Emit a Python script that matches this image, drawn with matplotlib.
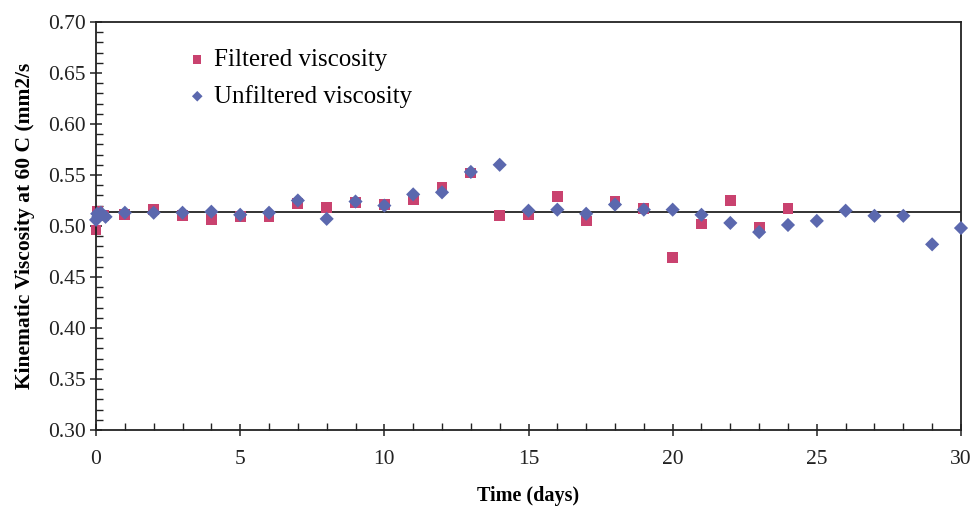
import matplotlib
matplotlib.use("Agg")
import matplotlib.pyplot as plt
from matplotlib.ticker import MultipleLocator

plt.rcParams['font.family'] = ['Liberation Serif', 'DejaVu Serif']

# Filtered viscosity (red squares)
filt_days = [0, 0.04, 0.25, 1, 2, 3, 4, 5, 6, 7, 8, 9, 10, 11, 12, 13, 14,
             15, 16, 17, 18, 19, 20, 21, 22, 23, 24]
filt_visc = [0.496, 0.514, 0.510, 0.511, 0.516, 0.510, 0.506, 0.509, 0.509,
             0.522, 0.518, 0.523, 0.521, 0.526, 0.538, 0.552, 0.510,
             0.511, 0.529, 0.505, 0.524, 0.517, 0.469, 0.502, 0.525, 0.499, 0.517]

# Unfiltered viscosity (blue diamonds)
unf_days = [0, 0.04, 0.08, 0.17, 0.33, 1, 2, 3, 4, 5, 6, 7, 8, 9, 10, 11, 12,
            13, 14, 15, 16, 17, 18, 19, 20, 21, 22, 23, 24, 25, 26, 27, 28, 29, 30]
unf_visc = [0.506, 0.512, 0.509, 0.513, 0.509, 0.513, 0.513, 0.513, 0.514,
            0.511, 0.513, 0.525, 0.507, 0.524, 0.520, 0.531, 0.533,
            0.553, 0.560, 0.515, 0.516, 0.512, 0.521, 0.516, 0.516, 0.511,
            0.503, 0.494, 0.501, 0.505, 0.515, 0.510, 0.510, 0.482, 0.498]

mean_line_x = [0, 30]
mean_line_y = [0.514, 0.514]

fig = plt.figure(figsize=(9.76, 5.09), dpi=100)
ax = fig.add_axes([0.0984, 0.1552, 0.8862, 0.8016])

ax.plot(mean_line_x, mean_line_y, color='#222222', lw=1.3, zorder=1)
ax.scatter(filt_days, filt_visc, marker='s', s=60, color='#C9426F',
           edgecolors='none', label='Filtered viscosity', zorder=2, clip_on=False)
ax.scatter(unf_days, unf_visc, marker='D', s=52, color='#5B68AE',
           edgecolors='none', label='Unfiltered viscosity', zorder=3, clip_on=False)

ax.set_xlim(0, 30)
ax.set_ylim(0.30, 0.70)
ax.xaxis.set_major_locator(MultipleLocator(5))
ax.xaxis.set_minor_locator(MultipleLocator(1))
ax.yaxis.set_major_locator(MultipleLocator(0.05))
ax.yaxis.set_minor_locator(MultipleLocator(0.01))
ax.yaxis.set_major_formatter(matplotlib.ticker.FormatStrFormatter('%.2f'))

ax.tick_params(which='major', direction='inout', length=9, width=1.1,
               labelsize=15.5, colors='#222222', pad=3)
ax.tick_params(which='minor', direction='in', length=5, width=1.0, colors='#222222')
ax.tick_params(axis='x', which='major', pad=10)
for sp in ax.spines.values():
    sp.set_color('#222222')
    sp.set_linewidth(1.3)

ax.set_xlabel('Time (days)', fontsize=14.5, fontweight='bold', labelpad=12)
ax.set_ylabel('Kinematic Viscosity at 60 C (mm2/s', fontsize=15.5,
              fontweight='bold', labelpad=9)

leg = ax.legend(loc='upper left', bbox_to_anchor=(0.078, 0.99), frameon=False,
                fontsize=18, handletextpad=0.2, labelspacing=0.55,
                markerscale=0.75, handlelength=0.9)

fig.savefig('out.png', dpi=100)
